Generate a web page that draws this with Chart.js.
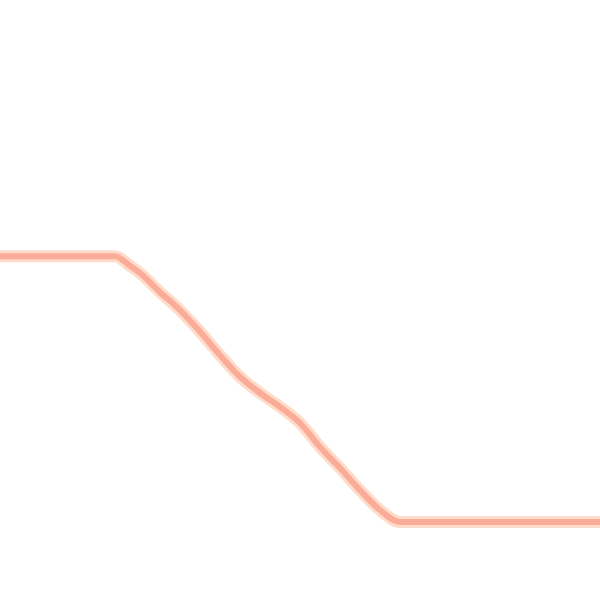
<!DOCTYPE html>
<html>
<head>
<meta charset="utf-8">
<script src="https://cdn.jsdelivr.net/npm/chart.js@4"></script>
<style>
html,body{margin:0;padding:0;background:#fff;}
#wrap{width:600px;height:600px;}
</style>
</head>
<body>
<div id="wrap"><canvas id="c"></canvas></div>
<script>
const xValues = [0, 115, 130, 140, 160, 180, 200, 220, 240, 260, 280, 300, 320, 340, 360, 380, 400, 600];
const yValues = [57.3, 57.3, 55.7, 54.5, 51.3, 48.3, 44.7, 40.8, 37.2, 34.5, 32.2, 29.5, 25.5, 22.0, 18.3, 15.0, 13.0, 13.0];

const points = xValues.map((x, i) => ({x: x, y: yValues[i]}));

new Chart(document.getElementById('c'), {
  type: 'line',
  data: {
    datasets: [{
      data: points,
      borderColor: 'rgb(251,172,152)',
      borderWidth: 6,
      pointRadius: 0,
      cubicInterpolationMode: 'monotone',
      fill: false,
      order: 0
    }, {
      data: points,
      borderColor: 'rgb(255,220,202)',
      borderWidth: 12,
      pointRadius: 0,
      cubicInterpolationMode: 'monotone',
      fill: false,
      order: 1
    }]
  },
  options: {
    responsive: true,
    maintainAspectRatio: false,
    animation: false,
    layout: {padding: 0},
    plugins: {legend: {display: false}, tooltip: {enabled: false}},
    scales: {
      x: {type: 'linear', min: 0, max: 600, display: false},
      y: {min: 0, max: 100, display: false}
    }
  }
});
</script>
</body>
</html>
